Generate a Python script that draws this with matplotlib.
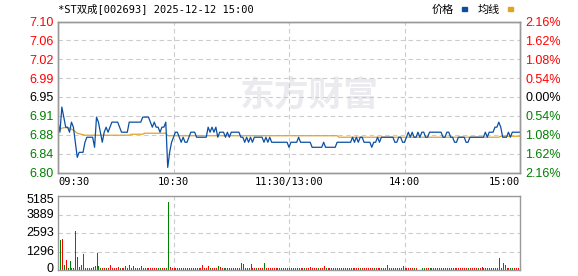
import numpy as np
import matplotlib
matplotlib.use("Agg")
import matplotlib.pyplot as plt
import matplotlib.transforms as mtransforms

# ---- data ----
title = "*ST双成[002693] 2025-12-12 15:00"
prev_close = 6.95
pct_max = 2.16

price = [
    6.90, 6.88, 6.93, 6.91, 6.89, 6.89, 6.88, 6.90, 6.89, 6.86,
    6.83, 6.84, 6.84, 6.84, 6.86, 6.87, 6.87, 6.87, 6.87, 6.85,
    6.91, 6.90, 6.88, 6.86, 6.88, 6.89, 6.88, 6.89, 6.90, 6.90,
    6.90, 6.90, 6.89, 6.88, 6.88, 6.88, 6.88, 6.90, 6.90, 6.90,
    6.90, 6.90, 6.90, 6.90, 6.91, 6.91, 6.91, 6.91, 6.90, 6.89,
    6.90, 6.89, 6.89, 6.88, 6.89, 6.89, 6.90, 6.81, 6.84, 6.86,
    6.87, 6.88, 6.88, 6.87, 6.86, 6.87, 6.86, 6.86, 6.87, 6.88,
    6.88, 6.88, 6.87, 6.87, 6.87, 6.87, 6.87, 6.87, 6.89, 6.88,
    6.89, 6.88, 6.89, 6.87, 6.88, 6.88, 6.88, 6.87, 6.88, 6.87,
    6.88, 6.88, 6.88, 6.88, 6.88, 6.87, 6.87, 6.86, 6.87, 6.86,
    6.87, 6.86, 6.87, 6.87, 6.87, 6.87, 6.87, 6.86, 6.87, 6.86,
    6.87, 6.86, 6.86, 6.86, 6.86, 6.86, 6.86, 6.86, 6.86, 6.86,
    6.85, 6.86, 6.86, 6.86, 6.86, 6.87, 6.86, 6.86, 6.86, 6.86,
    6.86, 6.86, 6.85, 6.85, 6.85, 6.85, 6.85, 6.85, 6.86, 6.85,
    6.85, 6.85, 6.85, 6.85, 6.85, 6.86, 6.86, 6.86, 6.86, 6.86,
    6.86, 6.86, 6.86, 6.87, 6.86, 6.87, 6.86, 6.87, 6.87, 6.86,
    6.86, 6.86, 6.86, 6.85, 6.86, 6.86, 6.87, 6.86, 6.87, 6.87,
    6.87, 6.87, 6.87, 6.87, 6.87, 6.86, 6.86, 6.87, 6.87, 6.86,
    6.86, 6.87, 6.88, 6.87, 6.88, 6.87, 6.87, 6.88, 6.87, 6.88,
    6.88, 6.87, 6.87, 6.88, 6.88, 6.88, 6.88, 6.88, 6.88, 6.88,
    6.87, 6.87, 6.88, 6.88, 6.87, 6.87, 6.86, 6.86, 6.87, 6.87,
    6.87, 6.87, 6.86, 6.86, 6.87, 6.87, 6.87, 6.87, 6.87, 6.87,
    6.87, 6.87, 6.88, 6.87, 6.88, 6.88, 6.88, 6.89, 6.89, 6.90,
    6.89, 6.87, 6.87, 6.87, 6.88, 6.87, 6.88, 6.88, 6.88, 6.88,
    6.88,
]

avg_price = (
    [6.882, 6.885, 6.888, 6.889, 6.889, 6.889, 6.888, 6.886, 6.884, 6.881,
     6.878, 6.877, 6.876, 6.875]
    + [6.874] * 24
    + [6.876] * 7
    + [6.878] * 12
    + [6.873] * 89
    + [6.870] * 84
    + [6.872] * 11
)

volume = [
    0, 2120, 2190, 370, 720, 160, 650, 160, 150, 2750,
    950, 230, 370, 1140, 140, 160, 130, 150, 230, 280,
    1210, 280, 160, 140, 160, 130, 170, 370, 150, 130,
    160, 230, 160, 140, 170, 330, 150, 370, 140, 280,
    150, 140, 160, 280, 140, 130, 150, 140, 160, 130,
    140, 150, 180, 130, 140, 160, 150, 4760, 210, 140,
    130, 150, 140, 160, 130, 140, 150, 130, 190, 140,
    160, 130, 140, 150, 130, 370, 140, 150, 280, 170,
    140, 130, 150, 280, 210, 140, 130, 160, 140, 150,
    130, 140, 150, 130, 140, 510, 460, 150, 130, 140,
    440, 140, 130, 150, 140, 130, 160, 510, 140, 130,
    150, 140, 130, 160, 140, 150, 130, 140, 190, 130,
    140, 130, 150, 140, 130, 160, 140, 130, 150, 140,
    130, 230, 140, 150, 130, 140, 160, 130, 300, 150,
    140, 130, 150, 140, 160, 130, 140, 150, 130, 140,
    150, 130, 140, 160, 130, 140, 150, 130, 140, 150,
    130, 140, 160, 130, 150, 140, 130, 160, 140, 130,
    150, 370, 140, 130, 150, 140, 160, 130, 140, 300,
    150, 140, 130, 150, 140, 130, 160, 0, 0, 140,
    130, 150, 140, 130, 160, 140, 150, 130, 140, 130,
    150, 140, 130, 160, 140, 180, 130, 150, 140, 130,
    160, 140, 130, 150, 140, 130, 190, 140, 150, 130,
    230, 140, 130, 150, 140, 130, 190, 140, 150, 860,
    140, 510, 370, 130, 150, 180, 140, 130, 150, 140,
    650,
]

# r = up bar, g = down bar
vol_dir = (
    "ggrgrggrgg" "rgrrrgrrrg" "rggrrgrrrr" "rrgrrrgrrr"
    "rrrrrgrrrr" "rrggrrggrr" "rrrrgrrrrr" "rrgrrrrrrg"
    "rrrgrrgrrr" "rrgrrggrrr" "grrgrrrgrr" "rrrrgrrrrr"
    "rrgrrgrrgr" "rrrrrgrrrg" "rrrrrgrrrg" "rrgrrrrgrr"
    "rrrrgrrrrr" "rrrrrgrrrr" "grrrrgrrrg" "grrgrrgrrr"
    "rrgrrgrrrr" "rrrgrrrrgr" "rrrrgrrrrr" "ggrrrggrrr"
    "r"
)

price_labels = ["6.80", "6.84", "6.88", "6.91", "6.95", "6.99", "7.02", "7.06", "7.10"]
pct_labels = ["2.16%", "1.62%", "1.08%", "0.54%", "0.00%", "0.54%", "1.08%", "1.62%", "2.16%"]
vol_labels = ["0", "1296", "2593", "3889", "5185"]
vol_max = 5185

time_labels = ["09:30", "10:30", "11:30/13:00", "14:00", "15:00"]
time_pos = [0, 60, 120, 180, 240]

price_color = "#0b4fa3"
avg_color = "#e2a324"
up_color = "#ff0000"
down_color = "#008000"
grid_kw = dict(color="#cccccc", linestyle=(0, (4, 3)), linewidth=0.8)

plt.rcParams["font.family"] = ["Liberation Sans", "Noto Sans CJK SC"]

W, H = 578, 276
fig = plt.figure(figsize=(W / 100, H / 100), dpi=100)
ax_p = fig.add_axes([58 / W, 1 - 172.5 / H, 462 / W, 151 / H])
ax_v = fig.add_axes([58 / W, 1 - 270.3 / H, 462 / W, 74 / H])

x = np.arange(len(price))

# ---- price panel ----
lo = prev_close * (1 - pct_max / 100)
hi = prev_close * (1 + pct_max / 100)
ax_p.plot(x, avg_price, color=avg_color, lw=0.9, zorder=3)
ax_p.plot(x, price, color=price_color, lw=0.9, zorder=4)
ax_p.set_xlim(0, 240)
ax_p.set_ylim(lo, hi)

yt = np.linspace(lo, hi, 9)
ax_p.set_yticks(yt)
ax_p.set_yticklabels(price_labels)
ax_p.set_xticks(time_pos[1:-1])
ax_p.set_xticklabels([])
ax_p.tick_params(length=0, labelsize=9, pad=3)
ax_p.grid(True, **grid_kw)
ax_p.set_axisbelow(True)

mid = len(yt) // 2
for k, lab in enumerate(ax_p.get_yticklabels()):
    lab.set_color(up_color if k > mid else (down_color if k < mid else "black"))

ax_r = ax_p.twinx()
ax_r.set_ylim(lo, hi)
ax_r.set_yticks(yt)
ax_r.set_yticklabels(pct_labels)
ax_r.tick_params(length=0, labelsize=9, pad=4)
for k, lab in enumerate(ax_r.get_yticklabels()):
    lab.set_color(up_color if k > mid else (down_color if k < mid else "black"))

for a in (ax_p, ax_r, ax_v):
    for s in a.spines.values():
        s.set_color("#999999")
        s.set_linewidth(1)

# time labels under the price panel
aligns = ["left", "center", "center", "center", "right"]
for t, pos, ha in zip(time_labels, time_pos, aligns):
    ax_p.text(pos, -0.03, t, transform=ax_p.get_xaxis_transform(), ha=ha, va="top",
              fontsize=7.5, family=["DejaVu Sans Mono", "Noto Sans CJK SC"])

# watermark
ax_p.text(309 / W, 1 - 95 / H, "东方财富", transform=fig.transFigure, ha="center", va="center",
          fontsize=25, fontweight="bold", color="#ebebef", family=["Noto Sans CJK SC"], zorder=0.1)

# ---- volume panel ----
colors = [up_color if c == "r" else down_color for c in vol_dir]
ax_v.vlines(x, 0, volume, colors=colors, linewidth=0.72, antialiased=False)
ax_v.set_xlim(0, 240)
ax_v.set_ylim(0, vol_max)
vt = np.linspace(0, vol_max, 5)
ax_v.set_yticks(vt)
ax_v.set_yticklabels([])
ax_v.set_xticks(time_pos[1:-1])
ax_v.set_xticklabels([])
ax_v.tick_params(length=0)
ax_v.grid(True, **grid_kw)
ax_v.set_axisbelow(True)

# volume labels, the end ones pulled inside the panel like the reference
ytrans = ax_v.get_yaxis_transform()
for k, (v, lab) in enumerate(zip(vt, vol_labels)):
    dy = 0
    if k == 0:
        dy = 1.0 / 72
    elif k == len(vt) - 1:
        dy = -3.0 / 72
    tr = ytrans + mtransforms.ScaledTranslation(-3.0 / 72, dy, fig.dpi_scale_trans)
    ax_v.text(0, v, lab, transform=tr, ha="right", va="center", fontsize=9)

# ---- header and legend ----
fig.text(58 / W, 1 - 8.7 / H, title, ha="left", va="center", fontsize=7.5,
         family=["DejaVu Sans Mono", "Noto Sans CJK SC"])
fig.text(442.5 / W, 1 - 9.5 / H, "价格", ha="center", va="center", fontsize=8,
         family=["Noto Sans CJK SC"])
fig.text(489 / W, 1 - 9.5 / H, "均线", ha="center", va="center", fontsize=8,
         family=["Noto Sans CJK SC"])
fig.patches.append(plt.Rectangle((462 / W, 1 - 10.5 / H), 5 / W, 3 / H,
                                 transform=fig.transFigure, color=price_color))
fig.patches.append(plt.Rectangle((508 / W, 1 - 10.5 / H), 5 / W, 3 / H,
                                 transform=fig.transFigure, color=avg_color))

fig.savefig("out.png", dpi=100)
